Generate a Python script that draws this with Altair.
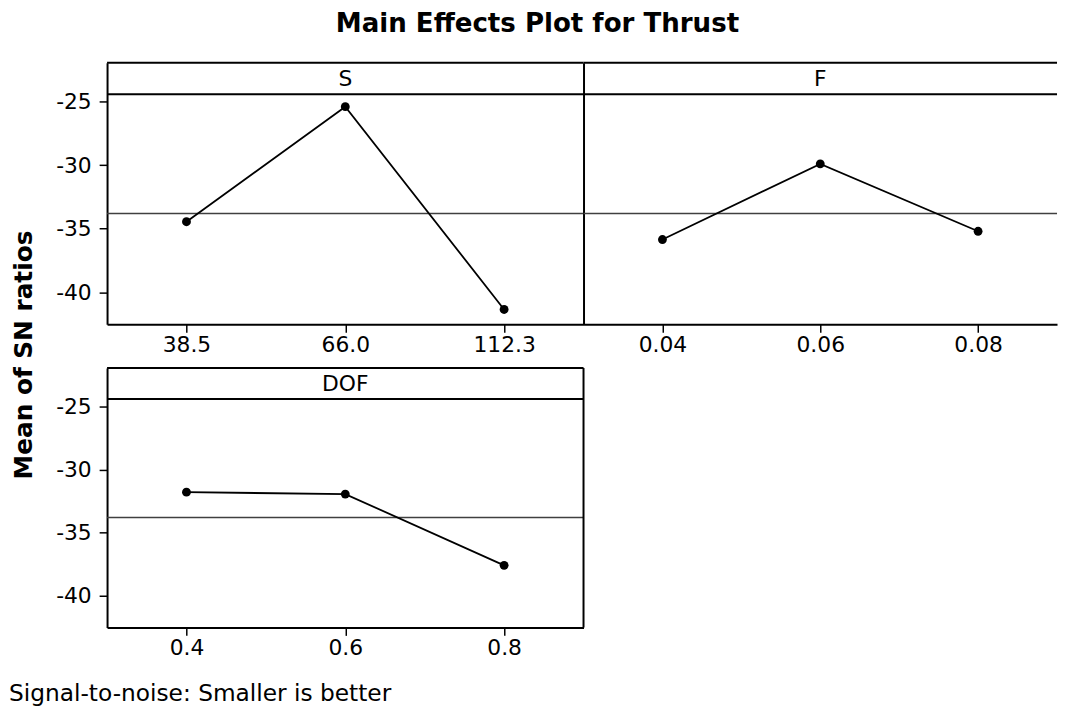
import altair as alt
import pandas as pd

# ---- data ----
S_LEVELS = ["38.5", "66.0", "112.3"]
S_SN = [-34.45, -25.4, -41.35]
F_LEVELS = ["0.04", "0.06", "0.08"]
F_SN = [-35.85, -29.9, -35.2]
DOF_LEVELS = ["0.4", "0.6", "0.8"]
DOF_SN = [-31.8, -31.95, -37.6]
GRAND_MEAN = -33.8
Y_TICKS = [-40, -35, -30, -25]
Y_DOMAIN = [-42.52, -21.95]
HEADER_LINE = -24.42

FONT = "DejaVu Sans"
W_S, W_F, W_D = 481, 478, 481
H_TOP, H_BOT = 264, 262


def panel(name, levels, values, y_mode, width, height, right_border, extras=()):
    df = pd.DataFrame({"level": levels, "sn": values})
    yscale = alt.Scale(domain=Y_DOMAIN, nice=False, zero=False)
    if y_mode == "full":
        yaxis = alt.Axis(values=Y_TICKS, title=None, grid=False, tickSize=8,
                         labelPadding=8, labelExpr="toString(datum.value)")
    else:
        yaxis = alt.Axis(title=None, grid=False, ticks=False, labels=False)
    y = alt.Y("sn:Q", scale=yscale, axis=yaxis)
    x = alt.X("level:O", sort=levels, title=None,
              axis=alt.Axis(labelAngle=0, tickSize=8, labelPadding=2, grid=False))
    base = alt.Chart(df)
    mean_rule = alt.Chart(pd.DataFrame({"m": [GRAND_MEAN]})).mark_rule(
        color="#404040", strokeWidth=1.6).encode(y=alt.datum(GRAND_MEAN))
    head_rule = alt.Chart(pd.DataFrame({"m": [HEADER_LINE]})).mark_rule(
        color="black", strokeWidth=2).encode(y=alt.datum(HEADER_LINE))
    top_rule = alt.Chart(pd.DataFrame({"m": [Y_DOMAIN[1]]})).mark_rule(
        color="black", strokeWidth=2).encode(y=alt.datum(Y_DOMAIN[1]))
    head_text = alt.Chart(pd.DataFrame({"factor": [name]})).mark_text(
        font=FONT, fontSize=22, baseline="middle", align="center", color="black"
    ).encode(text="factor:N", x=alt.value(width / 2), y=alt.value(16.5))
    line = base.mark_line(color="black", strokeWidth=1.8).encode(x=x, y=y)
    pts = base.mark_circle(color="black", size=80, opacity=1).encode(x=x, y=y)
    layers = [mean_rule, head_rule, top_rule, head_text, line, pts]
    if right_border:
        rb = alt.Chart(pd.DataFrame({"k": [1]})).mark_rule(
            color="black", strokeWidth=2).encode(
            x=alt.value(width), y=alt.value(0), y2=alt.value(height))
        layers.append(rb)
    layers.extend(extras)
    return alt.layer(*layers).properties(width=width, height=height)


# y-axis title, spanning both rows (placed relative to the S panel)
ytitle = alt.Chart(pd.DataFrame({"t": ["Mean of SN ratios"]})).mark_text(
    font=FONT, fontSize=25, fontWeight="bold", angle=270, align="center",
    baseline="top", color="black"
).encode(text="t:N", x=alt.value(-96), y=alt.value(295))

# footnote under the DOF panel
foot = alt.Chart(pd.DataFrame({"t": ["Signal-to-noise: Smaller is better"]})).mark_text(
    font=FONT, fontSize=23.5, align="left", baseline="alphabetic", color="black"
).encode(text="t:N", x=alt.value(-99), y=alt.value(336))

s_panel = panel("S", S_LEVELS, S_SN, "full", W_S, H_TOP, False, [ytitle])
f_panel = panel("F", F_LEVELS, F_SN, "bare", W_F, H_TOP, False)
dof_panel = panel("DOF", DOF_LEVELS, DOF_SN, "full", W_D, H_BOT, True, [foot])

chart = alt.concat(
    s_panel, f_panel, dof_panel, columns=2,
    spacing={"row": 44, "column": 0}, bounds="flush",
).properties(
    title=alt.TitleParams("Main Effects Plot for Thrust", anchor="middle",
                          font=FONT, fontSize=26.3, fontWeight="bold", offset=24,
                          dx=4, color="black"),
    padding={"left": 0, "top": 0, "right": 0, "bottom": 0},
).configure_view(
    stroke="transparent"
).configure_axis(
    labelFont=FONT, labelFontSize=22, labelColor="black",
    tickColor="black", tickWidth=1.5, domainColor="black", domainWidth=2,
)

chart.save("out.html", embed_options={"renderer": "svg", "actions": False})
